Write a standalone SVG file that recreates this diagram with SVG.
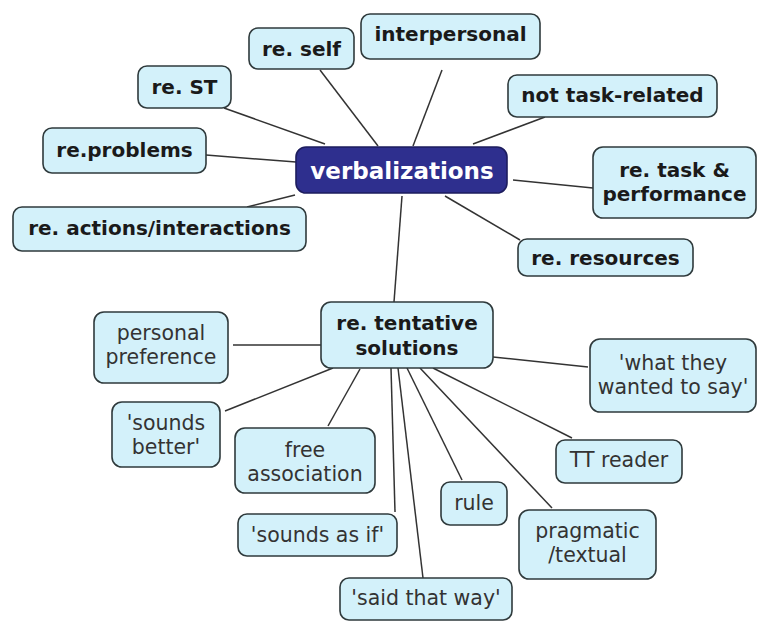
<svg xmlns="http://www.w3.org/2000/svg" width="757" height="621" viewBox="0 0 757 621">
<style>
  .node rect { fill: #d3f1fa; stroke: #2f3a3c; stroke-width: 1.6; }
  .hub rect { fill: #2e2f8e; stroke: #1d1d5e; stroke-width: 1.6; }
  text { font-family: "DejaVu Sans", Verdana, sans-serif; text-anchor: middle; fill: #1a1a1a; }
  .b { font-weight: bold; font-size: 20px; }
  .r { font-size: 20.5px; fill: #333; }
  .hub text { fill: #ffffff; font-weight: bold; font-size: 23px; }
  #links line { stroke: #333; stroke-width: 1.5; }
</style>
<rect width="757" height="621" fill="#ffffff"/>
<g id="links">
  <line x1="320" y1="70" x2="378" y2="146"/>
  <line x1="224" y1="108" x2="325" y2="144"/>
  <line x1="206" y1="155" x2="296" y2="162"/>
  <line x1="247" y1="207" x2="295" y2="195"/>
  <line x1="442" y1="70" x2="413" y2="146"/>
  <line x1="545" y1="117" x2="473" y2="144"/>
  <line x1="513" y1="180" x2="593" y2="188"/>
  <line x1="445" y1="196" x2="520" y2="240"/>
  <line x1="402" y1="196" x2="394" y2="302"/>
  <line x1="233" y1="345" x2="321" y2="345"/>
  <line x1="225" y1="411" x2="333" y2="368"/>
  <line x1="328" y1="426" x2="360" y2="369"/>
  <line x1="395" y1="512" x2="391" y2="368"/>
  <line x1="398" y1="368" x2="423" y2="578"/>
  <line x1="407" y1="368" x2="462" y2="480"/>
  <line x1="420" y1="368" x2="552" y2="508"/>
  <line x1="433" y1="368" x2="572" y2="438"/>
  <line x1="493" y1="357" x2="588" y2="367"/>
</g>
<g id="verbalizations" class="hub">
  <rect x="296" y="147" width="211" height="46" rx="10"/>
  <text x="402" y="179">verbalizations</text>
</g>
<g id="re-self" class="node">
  <rect x="249" y="28" width="105" height="41" rx="9"/>
  <text class="b" x="301.5" y="56">re. self</text>
</g>
<g id="interpersonal" class="node">
  <rect x="361" y="14" width="179" height="45" rx="9"/>
  <text class="b" x="450.5" y="41">interpersonal</text>
</g>
<g id="re-st" class="node">
  <rect x="138" y="66" width="93" height="42" rx="9"/>
  <text class="b" x="184.5" y="94">re. ST</text>
</g>
<g id="re-problems" class="node">
  <rect x="43" y="128" width="163" height="45" rx="9"/>
  <text class="b" x="124.5" y="157">re.problems</text>
</g>
<g id="re-actions" class="node">
  <rect x="13" y="207" width="293" height="44" rx="9"/>
  <text class="b" x="159.5" y="235">re. actions/interactions</text>
</g>
<g id="not-task-related" class="node">
  <rect x="508" y="75" width="209" height="42" rx="9"/>
  <text class="b" x="612.5" y="102">not task-related</text>
</g>
<g id="re-task" class="node">
  <rect x="593" y="147" width="163" height="71" rx="10"/>
  <text class="b" x="674.5" y="177">re. task &amp;</text>
  <text class="b" x="674.5" y="201">performance</text>
</g>
<g id="re-resources" class="node">
  <rect x="518" y="239" width="175" height="37" rx="9"/>
  <text class="b" x="605.5" y="265">re. resources</text>
</g>
<g id="re-tentative" class="node">
  <rect x="321" y="302" width="172" height="66" rx="10"/>
  <text class="b" x="407" y="330">re. tentative</text>
  <text class="b" x="407" y="355">solutions</text>
</g>
<g id="personal-preference" class="node">
  <rect x="94" y="312" width="134" height="71" rx="10"/>
  <text class="r" x="161" y="340">personal</text>
  <text class="r" x="161" y="364">preference</text>
</g>
<g id="sounds-better" class="node">
  <rect x="112" y="402" width="108" height="65" rx="10"/>
  <text class="r" x="166" y="430">'sounds</text>
  <text class="r" x="166" y="454">better'</text>
</g>
<g id="free-association" class="node">
  <rect x="235" y="428" width="140" height="65" rx="10"/>
  <text class="r" x="305" y="457">free</text>
  <text class="r" x="305" y="481">association</text>
</g>
<g id="sounds-as-if" class="node">
  <rect x="238" y="514" width="159" height="42" rx="9"/>
  <text class="r" x="317.5" y="542">'sounds as if'</text>
</g>
<g id="said-that-way" class="node">
  <rect x="340" y="578" width="172" height="42" rx="9"/>
  <text class="r" x="426" y="605">'said that way'</text>
</g>
<g id="what-they-wanted" class="node">
  <rect x="590" y="339" width="166" height="73" rx="10"/>
  <text class="r" x="673" y="370">'what they</text>
  <text class="r" x="673" y="394">wanted to say'</text>
</g>
<g id="tt-reader" class="node">
  <rect x="556" y="440" width="126" height="43" rx="9"/>
  <text class="r" x="619" y="467">TT reader</text>
</g>
<g id="rule" class="node">
  <rect x="441" y="482" width="66" height="43" rx="9"/>
  <text class="r" x="474" y="510">rule</text>
</g>
<g id="pragmatic-textual" class="node">
  <rect x="519" y="510" width="137" height="69" rx="10"/>
  <text class="r" x="587.5" y="538">pragmatic</text>
  <text class="r" x="587.5" y="562">/textual</text>
</g>
</svg>
